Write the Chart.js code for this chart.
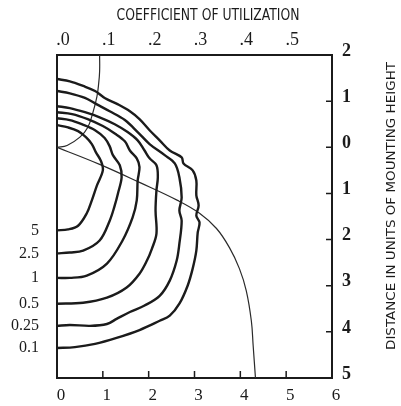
<!DOCTYPE html>
<html>
<head>
<meta charset="utf-8">
<script src="https://cdn.jsdelivr.net/npm/chart.js@4.4.1/dist/chart.umd.min.js"></script>
<style>
  html, body { margin: 0; padding: 0; background: #fff; }
  .graph-canvas { width: 401px; height: 406px; }
</style>
</head>
<body>
<div class="graph-canvas"><canvas id="graph" width="401" height="406"></canvas></div>
<script>
// isofootcandle curves (x = distance across, y = distance along, in mounting heights)
const curveLabels = ['5', '2.5', '1', '0.5', '0.25', '0.1'];

const c5X = [0, 0.24, 0.46, 0.63, 0.76, 0.85, 0.96, 1.00, 0.87, 0.76, 0.65, 0.46, 0.24, 0];
const c5Y = [0.48, 0.43, 0.35, 0.22, 0.07, -0.11, -0.30, -0.50, -0.83, -1.15, -1.43, -1.70, -1.78, -1.80];

const c25X = [0, 0.28, 0.54, 0.83, 1.04, 1.15, 1.22, 1.37, 1.41, 1.33, 1.26, 1.15, 0.93, 0.57, 0.28, 0];
const c25Y = [0.63, 0.59, 0.50, 0.37, 0.20, 0.02, -0.17, -0.39, -0.65, -1.00, -1.26, -1.59, -2.02, -2.24, -2.28, -2.30];

const c1X = [0, 0.33, 0.67, 1.00, 1.26, 1.48, 1.59, 1.74, 1.80, 1.76, 1.74, 1.65, 1.43, 1.09, 0.65, 0.28, 0];
const c1Y = [0.76, 0.72, 0.61, 0.46, 0.30, 0.13, -0.07, -0.24, -0.43, -0.72, -1.15, -1.52, -2.02, -2.52, -2.78, -2.83, -2.83];

const c05X = [0, 0.28, 0.61, 0.93, 1.26, 1.54, 1.76, 1.91, 2.02, 2.17, 2.20, 2.17, 2.15, 2.17, 2.07, 1.96, 1.80, 1.52, 1.09, 0.57, 0];
const c05Y = [0.89, 0.85, 0.76, 0.65, 0.50, 0.33, 0.15, -0.07, -0.24, -0.39, -0.65, -0.93, -1.37, -1.87, -2.20, -2.46, -2.74, -3.04, -3.26, -3.37, -3.39];

const c025X = [0, 0.28, 0.61, 0.87, 1.15, 1.48, 1.76, 2.02, 2.35, 2.57, 2.67, 2.72, 2.67, 2.72, 2.67, 2.61, 2.46, 2.24, 1.91, 1.59, 1.30, 1.09, 0.72, 0.28, 0];
const c025Y = [1.22, 1.17, 1.07, 0.93, 0.78, 0.59, 0.33, 0.07, -0.17, -0.35, -0.65, -1.09, -1.37, -1.59, -2.09, -2.46, -2.89, -3.22, -3.43, -3.57, -3.72, -3.83, -3.87, -3.85, -3.87];

const c01X = [0, 0.28, 0.57, 0.83, 1.04, 1.33, 1.59, 1.80, 2.02, 2.24, 2.46, 2.72, 2.76, 2.96, 3.04, 3.04, 3.09, 3.04, 3.11, 3.07, 3.04, 2.96, 2.85, 2.67, 2.46, 2.24, 1.80, 1.30, 0.83, 0.39, 0];
const c01Y = [1.48, 1.43, 1.33, 1.22, 1.07, 0.93, 0.78, 0.61, 0.37, 0.15, -0.07, -0.22, -0.35, -0.50, -0.72, -1.04, -1.26, -1.48, -1.63, -1.85, -2.24, -2.63, -3.00, -3.39, -3.65, -3.76, -3.96, -4.13, -4.26, -4.33, -4.35];

// coefficient of utilization curves (thin)
const cuHouseX = [0.93, 0.93, 0.91, 0.87, 0.78, 0.67, 0.50, 0.22, 0];
const cuHouseY = [2.0, 1.65, 1.39, 1.09, 0.74, 0.43, 0.22, 0.04, 0];
const cuStreetX = [0, 0.93, 1.80, 2.63, 3.11, 3.48, 3.76, 3.98, 4.13, 4.24, 4.28, 4.33];
const cuStreetY = [0, -0.37, -0.76, -1.15, -1.43, -1.76, -2.17, -2.63, -3.11, -3.76, -4.30, -5.0];

// axis ticks
const bottomTicks = [0, 1, 2, 3, 4, 5, 6];
const rightTicks = [2, 1, 0, -1, -2, -3, -4, -5];
const topTickValues = [0, 0.1, 0.2, 0.3, 0.4, 0.5];
const topTickLabels = ['.0', '.1', '.2', '.3', '.4', '.5'];
const topTitle = 'COEFFICIENT OF UTILIZATION';
const rightTitle = 'DISTANCE IN UNITS OF MOUNTING HEIGHT';

const INK = '#1b1b1b';
const SERIF = '"Liberation Serif", "DejaVu Serif", serif';
const NARROW = '"Liberation Sans Narrow", "DejaVu Sans Condensed", "Liberation Sans", sans-serif';

function pts(xs, ys) { return xs.map((x, i) => ({ x: x, y: ys[i] })); }

const curves = [[c5X, c5Y], [c25X, c25Y], [c1X, c1Y], [c05X, c05Y], [c025X, c025Y], [c01X, c01Y]];
const curveEnds = curves.map(c => c[1][c[1].length - 1]);

const datasets = curves.map((c, i) => ({
  label: curveLabels[i],
  data: pts(c[0], c[1]),
  showLine: true, pointRadius: 0, borderColor: INK, borderWidth: 2.4,
  tension: 0.35, clip: false
}));
datasets.push({ label: 'cu1', data: pts(cuHouseX, cuHouseY), showLine: true, pointRadius: 0, borderColor: '#2a2a2a', borderWidth: 1.2, tension: 0.4 });
datasets.push({ label: 'cu2', data: pts(cuStreetX, cuStreetY), showLine: true, pointRadius: 0, borderColor: '#2a2a2a', borderWidth: 1.2, tension: 0.4 });

// draw ticks pointing into the plot + both titles
const extras = {
  id: 'extras',
  afterDraw(chart) {
    const ctx = chart.ctx, a = chart.chartArea;
    const xs = chart.scales.x, yr = chart.scales.y;
    ctx.save();
    ctx.strokeStyle = INK;
    ctx.lineWidth = 1.5;
    ctx.beginPath();
    bottomTicks.forEach(v => {
      if (v <= 0 || v >= 6) return;
      const px = xs.getPixelForValue(v);
      ctx.moveTo(px, a.bottom); ctx.lineTo(px, a.bottom - 7);
    });
    rightTicks.forEach(v => {
      if (v >= 2 || v <= -5) return;
      const py = yr.getPixelForValue(v);
      ctx.moveTo(a.right, py); ctx.lineTo(a.right - 6, py);
    });
    ctx.stroke();

    ctx.fillStyle = INK;
    ctx.textAlign = 'center';
    ctx.textBaseline = 'middle';
    // top title, squeezed to its width
    ctx.font = '15px ' + NARROW;
    let w = ctx.measureText(topTitle).width;
    ctx.save();
    ctx.translate(208, 16);
    ctx.scale(183 / w, 1);
    ctx.fillText(topTitle, 0, 0);
    ctx.restore();
    // right title, bottom to top
    ctx.font = '13px ' + NARROW;
    w = ctx.measureText(rightTitle).width;
    ctx.save();
    ctx.translate(392, 206);
    ctx.rotate(-Math.PI / 2);
    ctx.scale(288 / w, 1);
    ctx.fillText(rightTitle, 0, 0);
    ctx.restore();
    ctx.restore();
  }
};

const border = { display: true, color: INK, width: 2 };

new Chart(document.getElementById('graph').getContext('2d'), {
  type: 'scatter',
  data: { datasets: datasets },
  plugins: [extras],
  options: {
    responsive: false,
    animation: false,
    layout: { padding: 0 },
    plugins: { legend: { display: false }, tooltip: { enabled: false } },
    scales: {
      x: {
        position: 'bottom', min: 0, max: 6,
        afterBuildTicks: s => { s.ticks = bottomTicks.map(v => ({ value: v })); },
        afterFit: s => { s.height = 28; },
        grid: { display: false, drawTicks: false }, border: border,
        ticks: { color: INK, padding: 7, labelOffset: 4, maxRotation: 0, autoSkip: false, font: { family: SERIF, size: 17 } }
      },
      x2: {
        type: 'linear', position: 'top', min: 0, max: 0.6,
        afterBuildTicks: s => { s.ticks = topTickValues.map(v => ({ value: v })); },
        afterFit: s => { s.height = 55; },
        grid: { display: false, drawTicks: false }, border: border,
        ticks: { color: INK, padding: 4, labelOffset: 6, maxRotation: 0, autoSkip: false,
          callback: (v, i) => topTickLabels[i], font: { family: SERIF, size: 18 } }
      },
      y: {
        position: 'right', min: -5, max: 2,
        afterBuildTicks: s => { s.ticks = rightTicks.map(v => ({ value: v })); },
        afterFit: s => { s.width = 69; },
        grid: { display: false, drawTicks: false }, border: border,
        ticks: { color: INK, padding: 10, labelOffset: -4, autoSkip: false,
          callback: v => String(Math.abs(v)), font: { family: SERIF, size: 18, weight: 'bold' } }
      },
      yL: {
        type: 'linear', position: 'left', min: -5, max: 2,
        afterBuildTicks: s => { s.ticks = curveEnds.map(v => ({ value: v })); },
        afterFit: s => { s.width = 57; },
        grid: { display: false, drawTicks: false }, border: border,
        ticks: { color: INK, padding: 18, autoSkip: false,
          callback: (v, i) => curveLabels[i], font: { family: SERIF, size: 16 } }
      }
    }
  }
});
</script>
</body>
</html>
